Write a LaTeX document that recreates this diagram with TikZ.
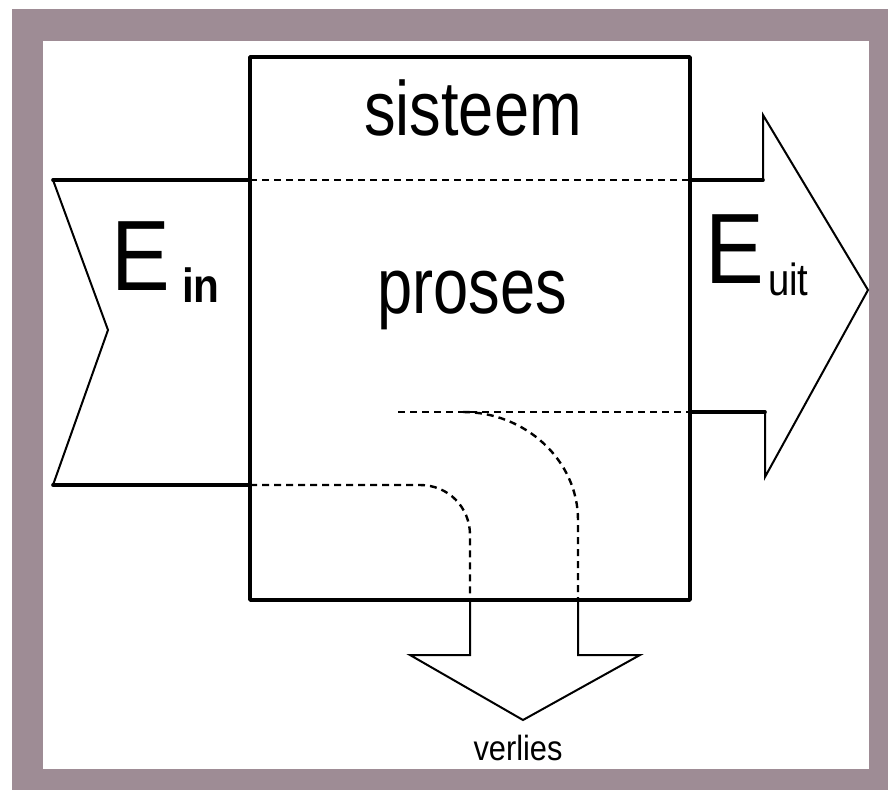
\documentclass[tikz,border=0pt]{standalone}
\usepackage{fontspec}
\setmainfont{Liberation Sans}
\definecolor{frame}{RGB}{158,140,149}
\begin{document}
\begin{tikzpicture}[x=1pt,y=-1pt,
  thickln/.style={line width=3.6pt,line cap=round,line join=round},
  thinln/.style={line width=2pt,line join=miter},
  dashln/.style={line width=2.4pt,dash pattern=on 7pt off 5pt},
  lbl/.style={inner sep=0pt,text=black}]
\useasboundingbox (0,0) rectangle (888,790);
\fill[white] (0,0) rectangle (888,790);
\fill[frame] (12,9) rectangle (888,790);
\fill[white] (43,41) rectangle (869,769);
% coordinates
\coordinate (bTL) at (250,57);
\coordinate (bBR) at (690,600);
% system box
\draw[thickln] (bTL) rectangle (bBR);
% input arrow
\coordinate (iT) at (53,180);
\coordinate (iB) at (53,485);
\coordinate (iN) at (108,330);
\coordinate (iTR) at (250,180);
\coordinate (iBR) at (250,485);
\draw[thickln] (iT) -- (iTR);
\draw[thickln] (iB) -- (iBR);
\draw[thinln] (iT) -- (iN) -- (iB);
% output arrow
\coordinate (oTL) at (690,180);
\coordinate (oT) at (763,180);
\coordinate (oTU) at (763,115);
\coordinate (oTip) at (868,290);
\coordinate (oBD) at (765,477);
\coordinate (oB) at (765,412);
\coordinate (oBL) at (690,412);
\draw[thickln] (oTL) -- (oT);
\draw[thickln] (oB) -- (oBL);
\draw[thinln] (oT) -- (oTU) -- (oTip) -- (oBD) -- (oB);
% loss arrow
\coordinate (l1) at (470,600);
\coordinate (l2) at (470,655);
\coordinate (l3) at (410,655);
\coordinate (lTip) at (523,720);
\coordinate (l5) at (640,655);
\coordinate (l6) at (578,655);
\coordinate (l7) at (578,600);
\draw[thinln] (l1) -- (l2) -- (l3) -- (lTip) -- (l5) -- (l6) -- (l7);
% dashed flows
\coordinate (d1a) at (250,180);
\coordinate (d1b) at (690,180);
\draw[dashln] (d1a) -- (d1b);
\coordinate (d2a) at (250,485);
\coordinate (d2b) at (420,485);
\coordinate (d2c) at (470,535);
\draw[dashln] (d2a) -- (d2b) .. controls (448,485) and (470,507) .. (d2c) -- (l1);
\coordinate (d3a) at (398,412);
\coordinate (d3b) at (690,412);
\draw[dashln] (d3a) -- (d3b);
\coordinate (d4a) at (463,412);
\coordinate (d4c) at (578,520);
\draw[dashln] (d4a) .. controls (525,412) and (578,460) .. (d4c) -- (l7);
% labels
\node[lbl,anchor=base,xscale=0.82] (sys) at (473,135) {\fontsize{77}{80}\selectfont sisteem};
\node[lbl,anchor=base,xscale=0.8] (pro) at (472,313) {\fontsize{79}{82}\selectfont proses};
\node[lbl,anchor=base west,xscale=0.88] (ein) at (111,290) {\fontsize{100}{100}\selectfont E};
\node[lbl,anchor=base west,xscale=0.88] (einsub) at (182,302) {\fontsize{48}{50}\selectfont\bfseries in};
\node[lbl,anchor=base west,xscale=0.88] (eout) at (705,283) {\fontsize{100}{100}\selectfont E};
\node[lbl,anchor=base west,xscale=0.85] (eoutsub) at (768,295) {\fontsize{45}{48}\selectfont uit};
\node[lbl,anchor=base,xscale=0.88] (loss) at (518,760) {\fontsize{35}{38}\selectfont verlies};
\end{tikzpicture}
\end{document}
